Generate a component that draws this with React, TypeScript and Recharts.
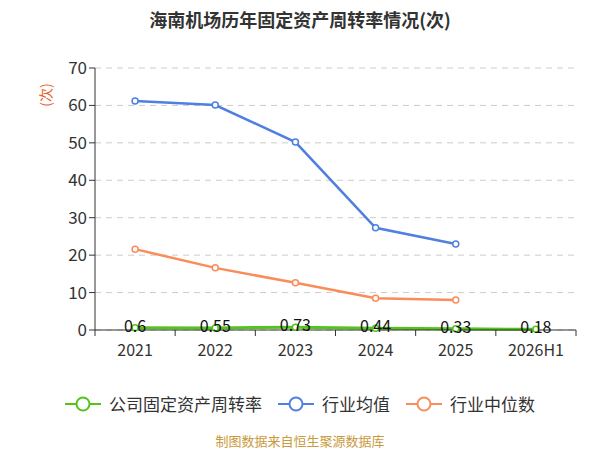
import React from 'react';
import { CartesianGrid, Line, LineChart, XAxis, YAxis, LabelList } from 'recharts';

const years = ['2021', '2022', '2023', '2024', '2025', '2026H1'];
const companyTurnover = [0.6, 0.55, 0.73, 0.44, 0.33, 0.18];
const industryMean = [61.2, 60.1, 50.2, 27.3, 23.0, null];
const industryMedian = [21.6, 16.6, 12.6, 8.5, 8.0, null];
const yTicks = [0, 10, 20, 30, 40, 50, 60, 70];

const data = years.map((year, i) => ({
  year,
  company: companyTurnover[i],
  mean: industryMean[i],
  median: industryMedian[i],
}));

const FONT = '"Noto Sans CJK SC", "Noto Sans", sans-serif';
const GREEN = '#52c41a';
const BLUE = '#4e7fe2';
const ORANGE = '#fa8c5a';

const legendItems = [
  { name: '公司固定资产周转率', color: GREEN },
  { name: '行业均值', color: BLUE },
  { name: '行业中位数', color: ORANGE },
];

const PLOT_LEFT = 95;
const PLOT_RIGHT = 576;
const BAND = (PLOT_RIGHT - PLOT_LEFT) / years.length;

function XTick(props: any) {
  const { x, y, payload, index } = props;
  const left = x - BAND / 2;
  return (
    <g>
      <line x1={left} x2={left} y1={y - 8} y2={y - 2} stroke="#333" />
      {index === years.length - 1 && (
        <line x1={left + BAND} x2={left + BAND} y1={y - 8} y2={y - 2} stroke="#333" />
      )}
      <text x={x} y={y + 18} textAnchor="middle" fill="#333" fontSize={16} fontFamily={FONT}>
        {payload.value}
      </text>
    </g>
  );
}

function PointLabel(props: any) {
  const { x, y, value } = props;
  return (
    <text x={x} y={y + 4} textAnchor="middle" fill="#111" fontSize={16} fontFamily={FONT}>
      {value}
    </text>
  );
}

function LegendIcon({ color }: { color: string }) {
  return (
    <svg width={36} height={16} style={{ marginRight: 8 }}>
      <line x1={0} x2={36} y1={8} y2={8} stroke={color} strokeWidth={2} />
      <circle cx={18} cy={8} r={6.5} fill="#fff" stroke={color} strokeWidth={2} />
    </svg>
  );
}

export default function App() {
  return (
    <div style={{ position: 'absolute', left: 0, top: 0, width: 600, height: 450, background: '#fff', fontFamily: FONT }}>
      <div style={{ position: 'absolute', top: 6, width: 600, textAlign: 'center', fontSize: 18, fontWeight: 'bold', color: '#333' }}>
        海南机场历年固定资产周转率情况(次)
      </div>
      <LineChart width={600} height={450} data={data} margin={{ top: 68, right: 24, left: 35, bottom: 90 }}>
        <CartesianGrid vertical={false} stroke="#ccc" strokeDasharray="6 5" />
        <XAxis
          dataKey="year"
          height={30}
          stroke="#333"
          tickLine={false}
          tick={<XTick />}
          interval={0}
          padding={{ left: BAND / 2, right: BAND / 2 }}
        />
        <YAxis
          width={60}
          domain={[0, 70]}
          ticks={yTicks}
          stroke="#333"
          tickSize={6}
          tick={{ fill: '#333', fontSize: 17, fontFamily: FONT }}
          label={(p: any) => (
            <text
              x={45}
              y={95}
              transform="rotate(-90 45 95)"
              textAnchor="middle"
              dominantBaseline="central"
              fill="#e8622c"
              fontSize={14}
              fontFamily={FONT}
            >
              (次)
            </text>
          )}
        />
        <Line
          dataKey="mean"
          name="行业均值"
          stroke={BLUE}
          strokeWidth={2.5}
          dot={{ r: 3, fill: '#fff', stroke: BLUE, strokeWidth: 1.5 }}
          isAnimationActive={false}
        />
        <Line
          dataKey="median"
          name="行业中位数"
          stroke={ORANGE}
          strokeWidth={2.5}
          dot={{ r: 3, fill: '#fff', stroke: ORANGE, strokeWidth: 1.5 }}
          isAnimationActive={false}
        />
        <Line
          dataKey="company"
          name="公司固定资产周转率"
          stroke={GREEN}
          strokeWidth={3}
          dot={{ r: 3, fill: '#fff', stroke: GREEN, strokeWidth: 1.5 }}
          isAnimationActive={false}
        >
          <LabelList dataKey="company" content={<PointLabel />} />
        </Line>
      </LineChart>
      <div style={{ position: 'absolute', top: 391, width: 600, display: 'flex', justifyContent: 'center', fontSize: 17, color: '#333' }}>
        {legendItems.map((item) => (
          <div key={item.name} style={{ display: 'flex', alignItems: 'center', margin: '0 8px' }}>
            <LegendIcon color={item.color} />
            <span>{item.name}</span>
          </div>
        ))}
      </div>
      <div style={{ position: 'absolute', top: 431, width: 600, textAlign: 'center', fontSize: 13, color: '#c99a3e' }}>
        制图数据来自恒生聚源数据库
      </div>
    </div>
  );
}
